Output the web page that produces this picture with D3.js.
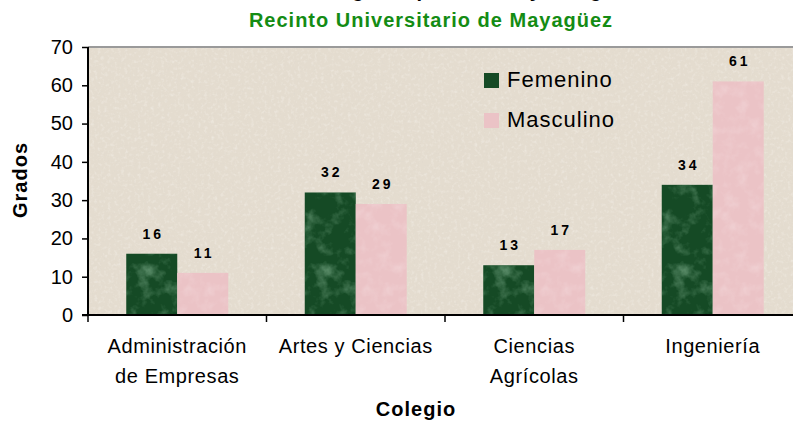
<!DOCTYPE html>
<html>
<head>
<meta charset="utf-8">
<script src="https://cdnjs.cloudflare.com/ajax/libs/d3/7.8.5/d3.min.js"></script>
<style>
  body { margin: 0; background: #fff; overflow: hidden; }
  svg { display: block; font-family: Arial, "Liberation Sans", sans-serif; }
</style>
</head>
<body>
<svg id="chart"></svg>
<script>
/** Data **/
var colegios = ["Administración de Empresas", "Artes y Ciencias", "Ciencias Agrícolas", "Ingeniería"];
var colegioLines = [["Administración", "de Empresas"], ["Artes y Ciencias"], ["Ciencias", "Agrícolas"], ["Ingeniería"]];
var series = ["Femenino", "Masculino"];
var femenino = [16, 32, 13, 34];
var masculino = [11, 29, 17, 61];
var yTicks = [0, 10, 20, 30, 40, 50, 60, 70];

var width = 793, height = 423;
var margin = {top: 47, right: -9, bottom: 108, left: 88};
var plotW = width - margin.left - margin.right,
    plotH = height - margin.top - margin.bottom;

var data = colegios.map(function(c, i) {
  return {colegio: c, lines: colegioLines[i], values: [
    {serie: series[0], value: femenino[i]},
    {serie: series[1], value: masculino[i]}
  ]};
});

var svg = d3.select("#chart").attr("width", width).attr("height", height);

/** textures **/
var defs = svg.append("defs");

function noiseFilter(id, freq, oct, seed, rgb, a, b) {
  var f = defs.append("filter").attr("id", id).attr("x", 0).attr("y", 0).attr("width", 1).attr("height", 1);
  f.append("feTurbulence").attr("type", "fractalNoise").attr("baseFrequency", freq)
    .attr("numOctaves", oct).attr("seed", seed).attr("result", "n");
  f.append("feColorMatrix").attr("in", "n").attr("type", "matrix")
    .attr("values", "0 0 0 0 " + rgb[0] + "  0 0 0 0 " + rgb[1] + "  0 0 0 0 " + rgb[2] + "  " + a + " 0 0 0 " + b);
  f.append("feComposite").attr("in2", "SourceGraphic").attr("operator", "in");
}
noiseFilter("bgLight", 0.3, 2, 4, [0.95, 0.93, 0.89], 1.6, -0.8);
noiseFilter("bgDark", 0.5, 2, 11, [0.72, 0.68, 0.62], 2.2, -1.25);
noiseFilter("greenNoise", 0.06, 4, 7, [0.26, 0.50, 0.32], 2.2, -1.1);
noiseFilter("pinkNoise", 0.08, 3, 2, [0.95, 0.82, 0.83], 1.2, -0.55);

/** Titles **/
svg.append("text")
  .attr("x", 427).attr("y", -3)
  .attr("text-anchor", "middle")
  .style("font-size", "20px").style("font-weight", "bold").style("fill", "#000")
  .text("Grados Otorgados por Género y Colegio");

svg.append("text")
  .attr("x", 431).attr("y", 27)
  .attr("text-anchor", "middle")
  .style("font-size", "20px").style("font-weight", "bold").style("letter-spacing", "1px")
  .style("fill", "#148c14")
  .text("Recinto Universitario de Mayagüez");

var g = svg.append("g")
  .attr("transform", "translate(" + margin.left + "," + margin.top + ")");

/** Scales **/
var x0 = d3.scaleBand().domain(colegios).range([0, plotW]).padding(0);
var x1 = d3.scaleBand().domain(series).range([0, x0.bandwidth()]).paddingInner(0).paddingOuter(0.75);
var y = d3.scaleLinear().domain([0, 70]).range([plotH, 0]);
var color = {"Femenino": "#154a25", "Masculino": "#ebc3c6"};
var tex = {"Femenino": "url(#greenNoise)", "Masculino": "url(#pinkNoise)"};

/** plot background **/
g.append("rect").attr("width", plotW).attr("height", plotH).attr("fill", "#e4dccf");
g.append("rect").attr("width", plotW).attr("height", plotH).attr("fill", "#fff").attr("filter", "url(#bgLight)").attr("opacity", 0.6);
g.append("rect").attr("width", plotW).attr("height", plotH).attr("fill", "#fff").attr("filter", "url(#bgDark)").attr("opacity", 0.5);
g.append("line").attr("x1", 0).attr("x2", plotW).attr("y1", 0).attr("y2", 0)
  .attr("stroke", "#9a9a9a").attr("stroke-width", 2);

/** Bars **/
var groups = g.selectAll(".grupo")
  .data(data)
  .enter().append("g")
  .attr("class", "grupo")
  .attr("transform", function(d) { return "translate(" + x0(d.colegio) + ",0)"; });

groups.selectAll(".bar")
  .data(function(d) { return d.values; })
  .enter().append("rect")
  .attr("class", "bar")
  .attr("x", function(d) { return x1(d.serie); })
  .attr("y", function(d) { return y(d.value); })
  .attr("width", x1.bandwidth())
  .attr("height", function(d) { return plotH - y(d.value); })
  .attr("fill", function(d) { return color[d.serie]; });

groups.selectAll(".tex")
  .data(function(d) { return d.values; })
  .enter().append("rect")
  .attr("class", "tex")
  .attr("x", function(d) { return x1(d.serie); })
  .attr("y", function(d) { return y(d.value); })
  .attr("width", x1.bandwidth())
  .attr("height", function(d) { return plotH - y(d.value); })
  .attr("fill", "#fff")
  .attr("opacity", 0.6)
  .attr("filter", function(d) { return tex[d.serie]; });

groups.selectAll(".lbl")
  .data(function(d) { return d.values; })
  .enter().append("text")
  .attr("class", "lbl")
  .attr("x", function(d) { return x1(d.serie) + x1.bandwidth() / 2 + 1.5; })
  .attr("y", function(d) { return y(d.value) - 15; })
  .attr("text-anchor", "middle")
  .style("font-size", "14px").style("font-weight", "bold").style("letter-spacing", "3px")
  .text(function(d) { return d.value; });

/** Axes **/
var yAxis = d3.axisLeft(y).tickValues(yTicks).tickSize(6).tickPadding(9);
var ya = g.append("g").attr("class", "y axis").call(yAxis);
ya.select(".domain").attr("stroke", "#000").attr("stroke-width", 2).attr("d", "M0," + (plotH + 1) + "V0");
ya.selectAll("line").attr("stroke", "#000").attr("stroke-width", 1.5);
ya.selectAll("text").style("font-size", "20px").style("font-family", "Arial, 'Liberation Sans', sans-serif").attr("fill", "#000");

var xa = g.append("g").attr("class", "x axis").attr("transform", "translate(0," + plotH + ")");
xa.append("line").attr("x1", -6).attr("x2", plotW).attr("y1", 0).attr("y2", 0)
  .attr("stroke", "#000").attr("stroke-width", 2);
xa.selectAll(".tk")
  .data(colegios)
  .enter().append("line")
  .attr("class", "tk")
  .attr("x1", function(d) { return x0(d); }).attr("x2", function(d) { return x0(d); })
  .attr("y1", 0).attr("y2", 7)
  .attr("stroke", "#000").attr("stroke-width", 1.5);

var catLabels = xa.selectAll(".cat")
  .data(data)
  .enter().append("text")
  .attr("class", "cat")
  .attr("text-anchor", "middle")
  .attr("transform", function(d) { return "translate(" + (x0(d.colegio) + x0.bandwidth() / 2) + ",38)"; })
  .style("font-size", "20px").style("letter-spacing", "0.6px");
catLabels.selectAll("tspan")
  .data(function(d) { return d.lines; })
  .enter().append("tspan")
  .attr("x", 0)
  .attr("dy", function(d, i) { return i === 0 ? 0 : 30; })
  .text(function(d) { return d; });

/** Axis titles **/
svg.append("text")
  .attr("x", 416).attr("y", 416)
  .attr("text-anchor", "middle")
  .style("font-size", "20px").style("font-weight", "bold").style("letter-spacing", "1px")
  .text("Colegio");

svg.append("text")
  .attr("transform", "translate(27," + 180 + ") rotate(-90)")
  .attr("text-anchor", "middle")
  .style("font-size", "20px").style("font-weight", "bold").style("letter-spacing", "1px")
  .text("Grados");

/** Legend **/
var legend = svg.append("g").attr("transform", "translate(484,73)");
var li = legend.selectAll(".li")
  .data(series)
  .enter().append("g")
  .attr("class", "li")
  .attr("transform", function(d, i) { return "translate(0," + (i * 40) + ")"; });
li.append("rect").attr("width", 15).attr("height", 15)
  .attr("fill", function(d) { return color[d]; });
li.append("text").attr("x", 23).attr("y", 14)
  .style("font-size", "22px").style("letter-spacing", "1px")
  .text(function(d) { return d; });
</script>
</body>
</html>
